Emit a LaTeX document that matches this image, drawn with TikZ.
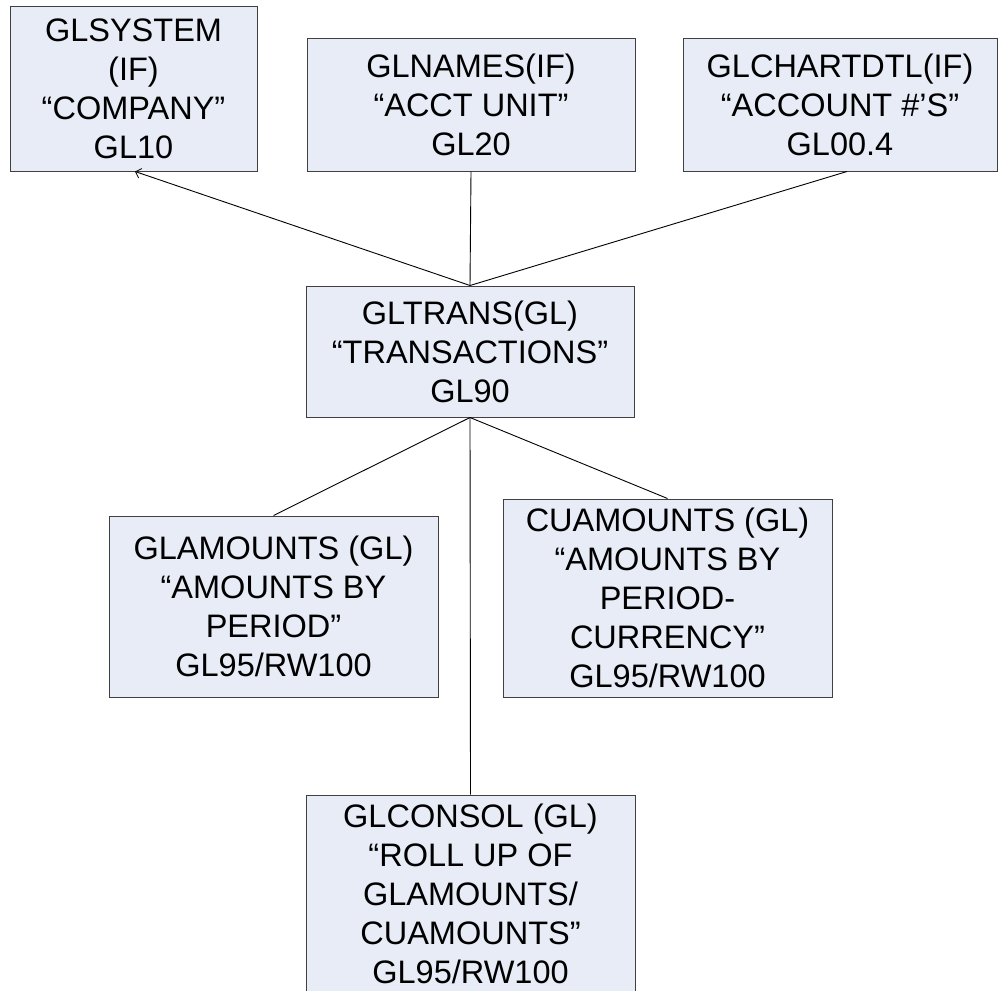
\documentclass[tikz,border=0pt]{standalone}
\usepackage{fontspec}
\setmainfont{Liberation Sans}
\usetikzlibrary{arrows.meta}
\definecolor{boxfill}{RGB}{232,236,247}
\definecolor{boxline}{RGB}{64,64,64}
\tikzset{
  tbl/.style={draw=boxline, fill=boxfill, line width=1pt, rectangle, inner sep=0pt,
    align=center, font=\fontsize{32.5}{39}\selectfont},
  link/.style={draw=black, line width=0.9pt},
  arr/.style={link, -{Straight Barb[length=5pt,width=10pt,line width=0.8pt]}}
}
\begin{document}
\begin{tikzpicture}[x=1pt,y=-1pt]
\useasboundingbox (0,0) rectangle (998,990);
\clip (0,0) rectangle (998,990);
\node[tbl, minimum width=247pt, minimum height=164pt] (sys) at (133.5,89) {GLSYSTEM\\(IF)\\“COMPANY”\\GL10};
\node[tbl, minimum width=328pt, minimum height=132pt] (names) at (471,105) {GLNAMES(IF)\\“ACCT UNIT”\\GL20};
\node[tbl, minimum width=314pt, minimum height=132pt] (chart) at (840,105) {GLCHARTDTL(IF)\\“ACCOUNT \#’S”\\GL00.4};
\node[tbl, minimum width=328pt, minimum height=131pt] (trans) at (470,351.5) {GLTRANS(GL)\\“TRANSACTIONS”\\GL90};
\node[tbl, minimum width=329pt, minimum height=181pt] (glam) at (273.5,606.5) {GLAMOUNTS (GL)\\“AMOUNTS BY\\PERIOD”\\GL95/RW100};
\node[tbl, minimum width=329pt, minimum height=198pt] (cuam) at (667.5,598) {CUAMOUNTS (GL)\\“AMOUNTS BY\\PERIOD-\\CURRENCY”\\GL95/RW100};
\node[tbl, minimum width=329pt, minimum height=198pt] (cons) at (470.5,894) {GLCONSOL (GL)\\“ROLL UP OF\\GLAMOUNTS/\\CUAMOUNTS”\\GL95/RW100};
\draw[arr] (trans.north) -- ([xshift=1.5pt]sys.south);
\draw[link] (names.south) -- (trans.north);
\draw[link] ([xshift=7pt]chart.south) -- (trans.north);
\draw[link] (trans.south) -- (glam.north);
\draw[link] (trans.south) -- (cuam.north);
\draw[link] (trans.south) -- (cons.north);
\end{tikzpicture}
\end{document}
